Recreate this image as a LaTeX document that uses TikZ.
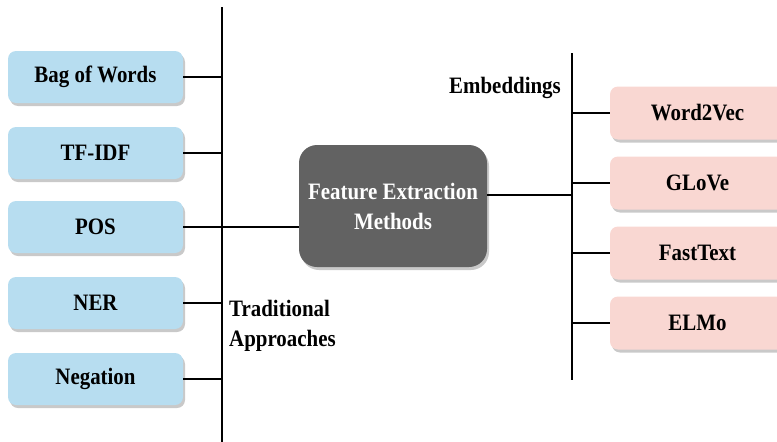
\documentclass[tikz,border=0pt]{standalone}
\usepackage{fontspec}
\setmainfont{Liberation Serif}[FakeStretch=0.89]
\usetikzlibrary{shadows}
\definecolor{tradblue}{RGB}{183,221,240}
\definecolor{embpink}{RGB}{249,215,210}
\definecolor{centergray}{RGB}{98,98,98}
\begin{document}
\begin{tikzpicture}[x=1pt, y=-1pt,
        every node/.style={font=\fontsize{23.5}{30}\selectfont\bfseries},
        trad/.style={fill=tradblue, rounded corners=8pt, minimum width=175pt, minimum height=52pt,
            drop shadow={shadow xshift=2pt, shadow yshift=-3pt, fill=black!30, opacity=0.7}},
        emb/.style={fill=embpink, rounded corners=8pt, minimum width=175pt, minimum height=53pt,
            drop shadow={shadow xshift=2pt, shadow yshift=-3pt, fill=black!30, opacity=0.7}},
        branch/.style={line width=2.2pt}]
        \clip (0,0) rectangle (777,442);
        % trunks
        \coordinate (lTop) at (222,7);
        \coordinate (lBot) at (222,442);
        \coordinate (rTop) at (572,53);
        \coordinate (rBot) at (572,380);
        \draw [branch] (lTop) -- (lBot);
        \draw [branch] (rTop) -- (rBot);
        % centre
        \node[fill=centergray, text=white, rounded corners=18pt, minimum width=188pt, minimum height=122pt, align=center,
            drop shadow={shadow xshift=2pt, shadow yshift=-3pt, fill=black!30, opacity=0.7}]
            (fem) at (393,206) {Feature Extraction\\Methods};
        \coordinate (femR) at ([yshift=11pt]fem.east);
        % traditional approaches
        \node[trad] (bow) at (95.5,77) {Bag of Words};
        \node[trad] (tfidf) at (95.5,153) {TF-IDF};
        \node[trad] (pos) at (95.5,227) {POS};
        \node[trad] (ner) at (95.5,303) {NER};
        \node[trad] (neg) at (95.5,379) {Negation};
        \foreach \n in {bow,tfidf,pos,ner,neg}
            \draw [branch] (\n.east) -- (\n.east -| lTop);
        \draw [branch] (pos.east -| lTop) -- (pos.east -| fem.west);
        \node[anchor=north west, align=left, inner sep=0pt] (tradlabel) at (229,300) {Traditional\\Approaches};
        % embeddings
        \node[emb] (w2v) at (697.5,113) {Word2Vec};
        \node[emb] (glove) at (697.5,183) {GLoVe};
        \node[emb] (ftext) at (697.5,253) {FastText};
        \node[emb] (elmo) at (697.5,323) {ELMo};
        \foreach \n in {w2v,glove,ftext,elmo}
            \draw [branch] (\n.west) -- (\n.west -| rTop);
        \draw [branch] (femR) -- (femR -| rTop);
        \node[anchor=east, inner sep=0pt] (emblabel) at (561,88) {Embeddings};
    \end{tikzpicture}
\end{document}
